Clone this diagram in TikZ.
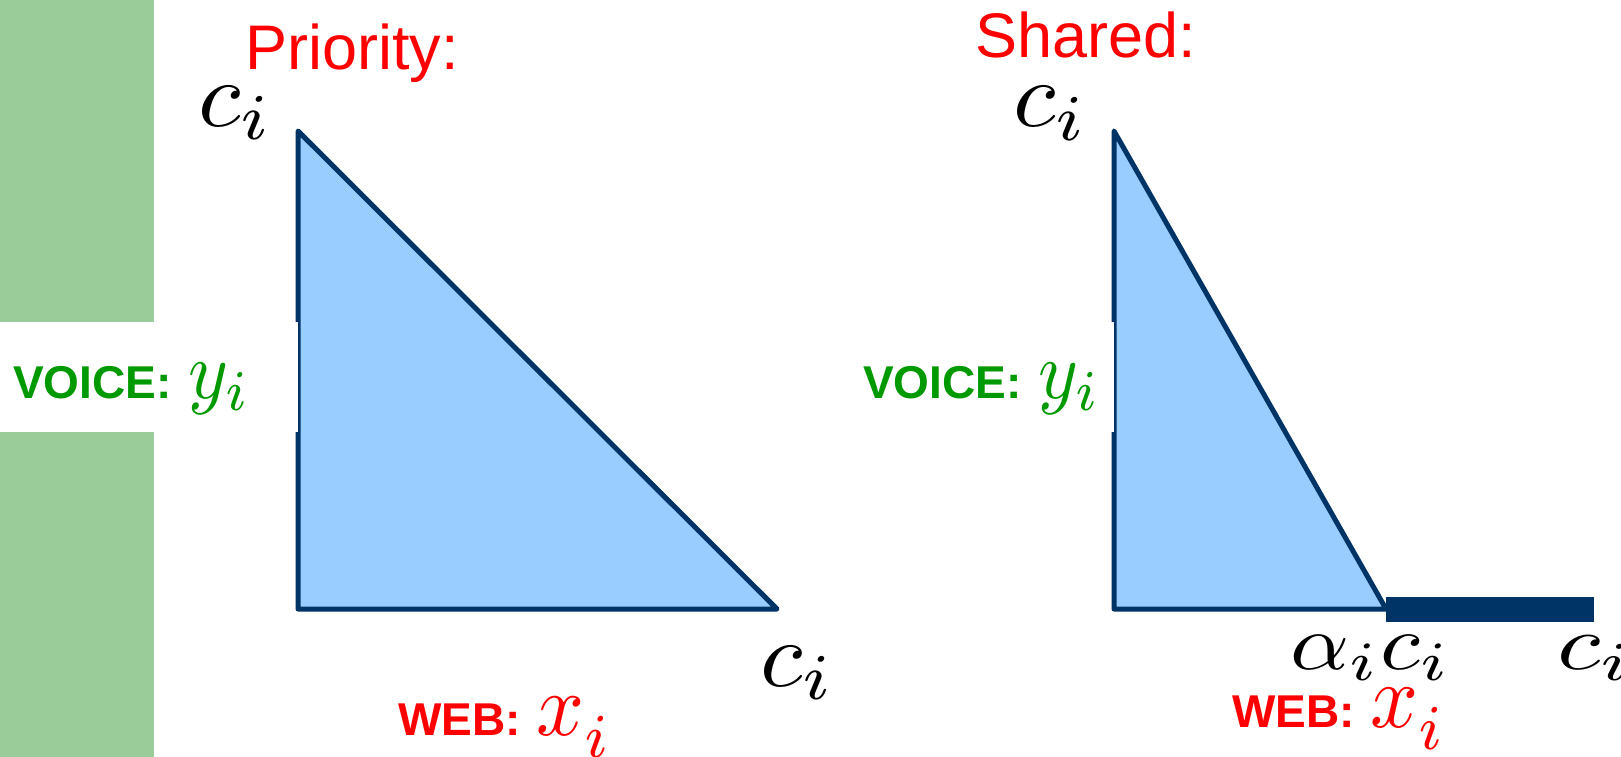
\documentclass[tikz,border=0pt]{standalone}
\usepackage{fontspec}
\setmainfont{Liberation Sans}
\definecolor{bandgreen}{HTML}{99CC99}
\definecolor{lblgreen}{HTML}{009900}
\definecolor{navy}{HTML}{003366}
\definecolor{triblue}{HTML}{99CCFF}
\definecolor{lblred}{HTML}{FF0000}
% math scaled up from 10pt (cmmi10 / cmmi7 optical sizes)
\newcommand{\mth}[3]{\scalebox{#1}[#2]{\fontsize{10}{12}\selectfont$#3$}}
\newcommand{\lbl}[1]{{\fontsize{46}{50}\selectfont\bfseries #1}}
\tikzset{
  tri/.style={fill=triblue, draw=navy, line width=5pt, line join=round},
  title/.style={anchor=base west, inner sep=0pt, text=lblred, font=\fontsize{63}{70}\selectfont},
  voice/.style={anchor=base west, inner sep=0pt, text=lblgreen},
  web/.style={anchor=base west, inner sep=0pt, text=lblred},
  cval/.style={anchor=base west, inner sep=0pt, text=black},
}
\begin{document}
\begin{tikzpicture}[x=1pt,y=-1pt]
\useasboundingbox (0,0) rectangle (1621,757);
\fill[bandgreen] (0,0) rectangle (154,757);
% Priority triangle
\coordinate (A1) at (298,131);
\coordinate (B1) at (298,609);
\coordinate (C1) at (777,609);
\filldraw[tri] (A1) -- (B1) -- (C1) -- cycle;
\fill[white] (0,322) rectangle (297.5,432);
% Shared triangle
\coordinate (A2) at (1114,131);
\coordinate (B2) at (1114,609);
\coordinate (C2) at (1386,609);
\coordinate (D2) at (1594,609);
\filldraw[tri] (A2) -- (B2) -- (C2) -- cycle;
\fill[white] (860,322) rectangle (1113.5,432);
\draw[navy, line width=25pt] (C2) -- (D2);
% titles
\node[title] (ptitle) at (245,70) {Priority:};
\node[title] (stitle) at (975,58) {Shared:};
% value labels
\node[cval] (pc1) at (198,126) {\mth{9.8}{9.3}{c_i}};
\node[cval] (pc2) at (760,686) {\mth{9.8}{9.3}{c_i}};
\node[cval] (sc1) at (1013,127) {\mth{9.8}{9.3}{c_i}};
\node[cval] (sac) at (1290.5,669) {\mth{9.2}{7.9}{\alpha_i c_i}};
\node[cval] (sc2) at (1557,669) {\mth{10}{7.8}{c_i}};
% axis labels
\node[voice] (pvoice) at (13,398) {\lbl{VOICE:}\hspace{17pt}\mth{7.6}{8.2}{y_i}};
\node[voice] (svoice) at (863,398) {\lbl{VOICE:}\hspace{17pt}\mth{7.6}{8.2}{y_i}};
\node[web] (pweb) at (398,735) {\lbl{WEB:}\hspace{16pt}\mth{8.4}{8.9}{x_{\lower1pt\hbox{$\scriptstyle i$}}}};
\node[web] (sweb) at (1232,727) {\lbl{WEB:}\hspace{16pt}\mth{8.4}{9.1}{x_{\lower1pt\hbox{$\scriptstyle i$}}}};
\end{tikzpicture}
\end{document}
